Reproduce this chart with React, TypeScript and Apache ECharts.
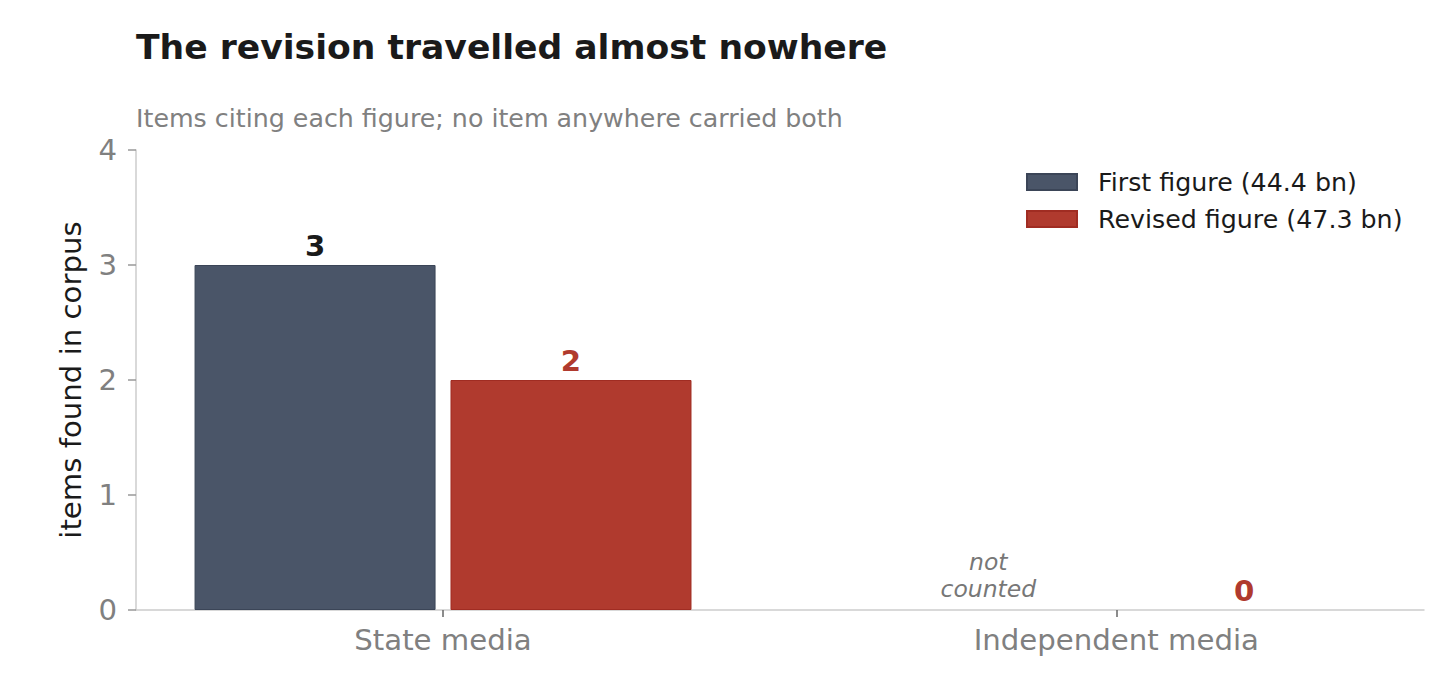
import React, { useEffect, useRef } from "react";
import * as echarts from "echarts";

const categories = ["State media", "Independent media"];
const seriesNames = ["First figure (44.4 bn)", "Revised figure (47.3 bn)"];
const firstFigure: (number | null)[] = [3, null];
const revisedFigure: number[] = [2, 0];
const yTicks = [0, 1, 2, 3, 4];
const notCountedLabel = "not\ncounted";
const title = "The revision travelled almost nowhere";
const subtitle = "Items citing each figure; no item anywhere carried both";
const yName = "items found in corpus";

const FONT = "DejaVu Sans";
const BLUE = "#4a5568";
const RED = "#b03a2e";
const AXIS_FS = 29.2;

export default function App() {
  const ref = useRef<HTMLDivElement>(null);
  useEffect(() => {
    if (!ref.current) return;
    const chart = echarts.init(ref.current, undefined, { renderer: "svg" });

    const firstData = categories.map((_, i) => {
      const v = firstFigure[i];
      if (v === null) {
        return {
          value: [i, 0],
          itemStyle: { color: "transparent", borderWidth: 0 },
          label: {
            show: true,
            formatter: notCountedLabel,
            fontStyle: "italic",
            fontWeight: "normal",
            color: "#777777",
            fontSize: 23.5,
            lineHeight: 27,
            distance: 7.5,
          },
        };
      }
      return { value: [i, v] };
    });
    const revisedData = categories.map((_, i) =>
      revisedFigure[i] === 0
        ? { value: [i, 0], itemStyle: { borderWidth: 0, color: "transparent" } }
        : { value: [i, revisedFigure[i]] }
    );

    chart.setOption({
      animation: false,
      textStyle: { fontFamily: FONT },
      title: [
        {
          text: title,
          left: 136,
          top: 29.5,
          padding: 0,
          textStyle: { fontFamily: FONT, fontSize: 34.6, fontWeight: "bold", color: "#1a1a1a" },
        },
        {
          text: subtitle,
          left: 136,
          top: 106,
          padding: 0,
          textStyle: { fontFamily: FONT, fontSize: 25.3, fontWeight: "normal", color: "#808080" },
        },
      ],
      legend: {
        orient: "vertical",
        left: 1026,
        top: 169,
        padding: 0,
        itemWidth: 50,
        itemHeight: 16,
        itemGap: 11,
        icon: "rect",
        textStyle: { fontFamily: FONT, fontSize: 25.3, lineHeight: 26, color: "#1a1a1a", padding: [0, 0, 0, 16] },
        data: seriesNames,
      },
      grid: { left: 136, right: 32, top: 150, bottom: 80, containLabel: false },
      xAxis: {
        type: "value",
        min: -0.456,
        max: 1.457,
        splitLine: { show: false },
        axisLine: { show: true, lineStyle: { color: "#cccccc", width: 1.5 } },
        axisTick: { show: true, customValues: [0, 1], length: 7, lineStyle: { color: "#666666", width: 1.5 } },
        axisLabel: {
          customValues: [0, 1],
          formatter: (v: number) => categories[Math.round(v)] ?? "",
          fontFamily: FONT,
          fontSize: AXIS_FS,
          color: "#808080",
          margin: 15,
        },
      },
      yAxis: {
        type: "value",
        min: 0,
        max: 4,
        interval: 1,
        name: yName,
        nameLocation: "middle",
        nameRotate: 90,
        nameGap: 51,
        nameTextStyle: { fontFamily: FONT, fontSize: AXIS_FS, color: "#1a1a1a" },
        splitLine: { show: false },
        axisLine: { show: true, onZero: false, lineStyle: { color: "#cccccc", width: 1.5 } },
        axisTick: { show: true, inside: false, length: 8, lineStyle: { color: "#999999", width: 1.5 } },
        axisLabel: {
          formatter: (v: number) => (yTicks.includes(v) ? String(v) : ""),
          fontFamily: FONT,
          fontSize: AXIS_FS,
          color: "#808080",
          margin: 19,
        },
      },
      series: [
        {
          name: seriesNames[0],
          type: "bar",
          barWidth: 241,
          barGap: "6.2%",
          itemStyle: { color: BLUE, borderColor: "#3b4557", borderWidth: 1 },
          label: {
            show: true,
            position: "top",
            distance: 4.5,
            fontFamily: FONT,
            fontSize: AXIS_FS,
            fontWeight: "bold",
            color: "#1a1a1a",
            formatter: (p: any) => String(p.value[1]),
          },
          data: firstData,
        },
        {
          name: seriesNames[1],
          type: "bar",
          barWidth: 241,
          barGap: "6.2%",
          itemStyle: { color: RED, borderColor: "#a02c22", borderWidth: 1 },
          label: {
            show: true,
            position: "top",
            distance: 4.5,
            fontFamily: FONT,
            fontSize: AXIS_FS,
            fontWeight: "bold",
            color: RED,
            formatter: (p: any) => String(p.value[1]),
          },
          data: revisedData,
        },
      ],
    });
    return () => chart.dispose();
  }, []);
  return (
    <div
      ref={ref}
      style={{ position: "fixed", left: 0, top: 0, width: 1456, height: 690, background: "#ffffff" }}
    />
  );
}
